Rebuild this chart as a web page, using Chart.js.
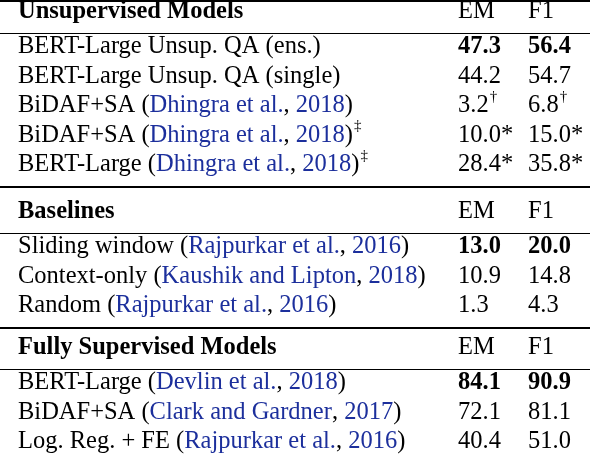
<!DOCTYPE html>
<html><head><meta charset="utf-8">
<script src="https://cdn.jsdelivr.net/npm/chart.js@4/dist/chart.umd.min.js"></script>
<style>html,body{margin:0;padding:0;background:#fff}</style>
</head><body>
<canvas id="c" width="590" height="454"></canvas>
<script>
const sections = ["Unsupervised Models", "Baselines", "Fully Supervised Models"];
const colHeaders = ["EM", "F1"];
const models = [
  [["BERT-Large Unsup. QA (ens.)", "", "", ""], ["BERT-Large Unsup. QA (single)", "", "", ""],
   ["BiDAF+SA (", "Dhingra et al.", ", ", "2018", ")", ""], ["BiDAF+SA (", "Dhingra et al.", ", ", "2018", ")", "‡"],
   ["BERT-Large (", "Dhingra et al.", ", ", "2018", ")", "‡"]],
  [["Sliding window (", "Rajpurkar et al.", ", ", "2016", ")", ""], ["Context-only (", "Kaushik and Lipton", ", ", "2018", ")", ""],
   ["Random (", "Rajpurkar et al.", ", ", "2016", ")", ""]],
  [["BERT-Large (", "Devlin et al.", ", ", "2018", ")", ""], ["BiDAF+SA (", "Clark and Gardner", ", ", "2017", ")", ""],
   ["Log. Reg. + FE (", "Rajpurkar et al.", ", ", "2016", ")", ""]]
];
const emValues = [["47.3","44.2","3.2","10.0*","28.4*"],["13.0","10.9","1.3"],["84.1","72.1","40.4"]];
const emSup = [["","","†","",""],["","",""],["","",""]];
const f1Values = [["56.4","54.7","6.8","15.0*","35.8*"],["20.0","14.8","4.3"],["90.9","81.1","51.0"]];
const f1Sup = [["","","†","",""],["","",""],["","",""]];
const boldRow = [0, 0, 0];

const FONT = '"Liberation Serif", "Times New Roman", serif';
const BLUE = '#1c2f9c';
const FS = 24.5;
const tablePlugin = {
  id: 'table',
  afterDraw(chart) {
    const ctx = chart.ctx, y = chart.scales.y, x = chart.scales.x;
    const X = v => x.getPixelForValue(v), Y = v => y.getPixelForValue(v);
    ctx.save();
    ctx.textBaseline = 'middle';
    const line = (yy, w) => { ctx.strokeStyle = '#000'; ctx.lineWidth = w; ctx.beginPath(); const p = Math.round(Y(yy)) + (w % 2 ? 0.5 : 0); ctx.moveTo(X(0), p); ctx.lineTo(X(590), p); ctx.stroke(); };
    const txt = (s, xx, yy, bold, color, size) => {
      ctx.font = (bold ? 'bold ' : '') + (size || FS) + 'px ' + FONT;
      ctx.fillStyle = color || '#000';
      ctx.fillText(s, xx, yy);
      return ctx.measureText(s).width;
    };
    line(1, 2);
    const starts = [12, 212, 348];
    sections.forEach((sec, si) => {
      const h = starts[si];
      txt(sec, X(18), Y(h), true);
      txt(colHeaders[0], X(458), Y(h), false);
      txt(colHeaders[1], X(528), Y(h), false);
      line(h + 21, 1);
      let last = h;
      models[si].forEach((m, ri) => {
        const ry = h + 35 + 29.5 * ri; last = ry;
        let px = X(18);
        m.forEach((seg, k) => {
          if (!seg) return;
          if (k === 5) { txt(seg, px + 1, Y(ry) - 9, false, '#000', 15); return; }
          const col = (k === 1 || k === 3) ? BLUE : '#000';
          px += txt(seg, px, Y(ry), false, col);
        });
        const b = ri === boldRow[si];
        let w = txt(emValues[si][ri], X(458), Y(ry), b);
        if (emSup[si][ri]) txt(emSup[si][ri], X(458) + w + 1, Y(ry) - 9, false, '#000', 15);
        w = txt(f1Values[si][ri], X(528), Y(ry), b);
        if (f1Sup[si][ri]) txt(f1Sup[si][ri], X(528) + w + 1, Y(ry) - 9, false, '#000', 15);
      });
      if (si < 2) line(last + 22, 2);
    });
    ctx.restore();
  }
};
new Chart(document.getElementById('c'), {
  type: 'scatter',
  data: { datasets: [{ data: [] }] },
  options: {
    responsive: false, animation: false, devicePixelRatio: 1,
    layout: { padding: 0 },
    plugins: { legend: { display: false }, tooltip: { enabled: false } },
    scales: {
      x: { type: 'linear', min: 0, max: 590, display: false },
      y: { type: 'linear', min: 0, max: 454, reverse: true, display: false }
    }
  },
  plugins: [tablePlugin]
});
</script>
</body></html>
